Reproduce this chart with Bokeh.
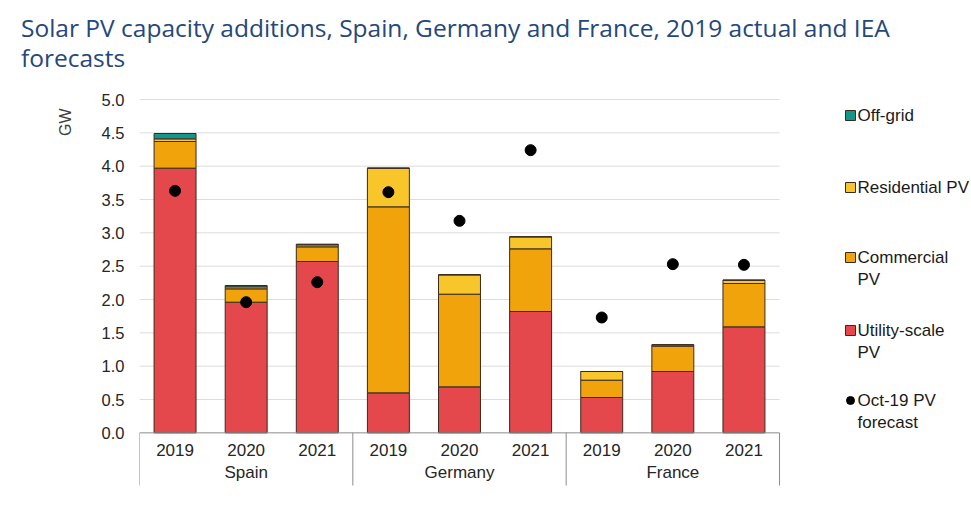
import numpy as np
from bokeh.plotting import figure
from bokeh.models import ColumnDataSource, FixedTicker, PrintfTickFormatter, Title, Div, Range1d
from bokeh.layouts import column
from bokeh.core.properties import value
from bokeh.embed import file_html
from bokeh.resources import INLINE

# ---------------- data ----------------
title_text = "Solar PV capacity additions, Spain, Germany and France, 2019 actual and IEA<br>forecasts"
countries = ["Spain", "Germany", "France"]
years = ["2019", "2020", "2021"]
utility = [3.97, 1.96, 2.57, 0.60, 0.69, 1.82, 0.53, 0.92, 1.59]
commercial = [0.40, 0.20, 0.22, 2.79, 1.39, 0.94, 0.26, 0.38, 0.65]
residential = [0.04, 0.03, 0.03, 0.58, 0.29, 0.18, 0.13, 0.02, 0.05]
offgrid = [0.08, 0.02, 0.01, 0.0, 0.0, 0.0, 0.0, 0.0, 0.0]
forecast = [3.63, 1.96, 2.26, 3.61, 3.18, 4.24, 1.73, 2.53, 2.52]
legend_labels = ["Off-grid", "Residential PV", "Commercial\nPV", "Utility-scale\nPV", "Oct-19 PV\nforecast"]
y_ticks = [0.0, 0.5, 1.0, 1.5, 2.0, 2.5, 3.0, 3.5, 4.0, 4.5, 5.0]
y_label = "GW"

# ---------------- layout / style ----------------
W, H = 971, 511
TITLE_H = 84
LEFT = 139
N_CAT = len(countries) * len(years)
CAT_PX = 640 / N_CAT
TOP, BOTTOM = 8, 24
PX_PER_GW = 66.67
fig_h = H - TITLE_H
frame_h = fig_h - TOP - BOTTOM
y_top = 5.105
y_bot = y_top - frame_h / PX_PER_GW
x_end = (W - LEFT) / CAT_PX


def px_x(px):
    return (px - LEFT) / CAT_PX


def px_y(py):
    return y_top - (py - TITLE_H - TOP) / PX_PER_GW


C_UTIL = "#e4474c"
C_COMM = "#f0a30a"
C_RES = "#f8c62a"
C_OFF = "#16958a"
EDGE = "#3a2a1e"
FONT = "Liberation Sans"
TXT = "#262626"

x = [i + 0.5 for i in range(N_CAT)]
source = ColumnDataSource(dict(x=x, utility=utility, commercial=commercial,
                               residential=residential, offgrid=offgrid,
                               forecast=forecast))

p = figure(width=W, height=fig_h, output_backend="svg", toolbar_location=None,
           title=None, x_range=Range1d(0, x_end), y_range=Range1d(y_bot, y_top),
           x_axis_location=None, min_border_left=LEFT, min_border_right=0,
           min_border_top=TOP, min_border_bottom=BOTTOM)
p.outline_line_color = None
p.xgrid.visible = False
p.ygrid.visible = False
p.background_fill_color = "white"
p.border_fill_color = "white"

ax = p.yaxis[0]
ax.ticker = FixedTicker(ticks=y_ticks)
ax.formatter = PrintfTickFormatter(format="%.1f")
ax.axis_line_color = None
ax.major_tick_line_color = None
ax.minor_tick_line_color = None
ax.major_tick_out = 0
ax.major_tick_in = 0
ax.major_label_standoff = 15
ax.major_label_text_font = FONT
ax.major_label_text_font_size = "16.5px"
ax.major_label_text_color = TXT

# y-axis title, placed near the top like the original
p.add_layout(Title(text=y_label, align="right", offset=16, standoff=50,
                   text_font=FONT, text_font_size="16px", text_font_style="normal",
                   text_color="#404040"), "left")

# gridlines (only across the plotted categories)
p.segment(x0=[0] * (len(y_ticks) - 1), x1=[N_CAT] * (len(y_ticks) - 1),
          y0=y_ticks[1:], y1=y_ticks[1:], line_color="#dcdcdc", line_width=1)

# stacked bars
p.vbar_stack(["utility", "commercial", "residential", "offgrid"], x="x", width=0.59,
             fill_color=[C_UTIL, C_COMM, C_RES, C_OFF], line_color=EDGE, line_width=1,
             source=source)

# forecast dots
p.scatter(x="x", y="forecast", size=11, marker="circle", fill_color="black",
          line_color="black", source=source)

# category axis
bounds = [i * len(years) for i in range(len(countries) + 1)]
p.segment(x0=[0], x1=[N_CAT], y0=[0], y1=[0], line_color="#8c8c8c", line_width=1)
p.segment(x0=bounds, x1=bounds, y0=[0] * len(bounds), y1=[px_y(485)] * len(bounds),
          line_color="#8c8c8c", line_width=1)
p.text(x=x, y=[px_y(449)] * N_CAT, text=years * len(countries), text_align="center",
       text_baseline="middle", text_font=value(FONT), text_font_size=value("17px"),
       text_color=TXT)
gx = [(bounds[i] + bounds[i + 1]) / 2 for i in range(len(countries))]
p.text(x=gx, y=[px_y(472)] * len(countries), text=countries, text_align="center",
       text_baseline="middle", text_font=value(FONT), text_font_size=value("17px"),
       text_color=TXT)

# legend (Excel-style, markers aligned with the first text line)
leg_py = [115, 187, 257, 330, 400]
leg_colors = [C_OFF, C_RES, C_COMM, C_UTIL]
p.scatter(x=[px_x(850)] * 4, y=[px_y(v) for v in leg_py[:4]], marker="square", size=10,
          fill_color=leg_colors, line_color=EDGE, line_width=1)
p.scatter(x=[px_x(850)], y=[px_y(leg_py[4])], marker="circle", size=8,
          fill_color="black", line_color="black")
p.text(x=[px_x(857)] * 5, y=[px_y(v - 10) for v in leg_py], text=legend_labels,
       text_align="left", text_baseline="top", text_font=value(FONT),
       text_font_size=value("17px"), text_color="#1a1a1a", text_line_height=1.2)

title = Div(text='<div style="font-family:\'Open Sans\';font-size:24.5px;color:#24487b;'
                 'line-height:30px;padding:13px 0 0 21px;white-space:nowrap;">'
                 + title_text + '</div>',
            width=W, height=TITLE_H, margin=(0, 0, 0, 0))
p.margin = (0, 0, 0, 0)

layout = column(title, p, spacing=0, margin=(0, 0, 0, 0))
open("out.html", "w").write(file_html(layout, INLINE))
